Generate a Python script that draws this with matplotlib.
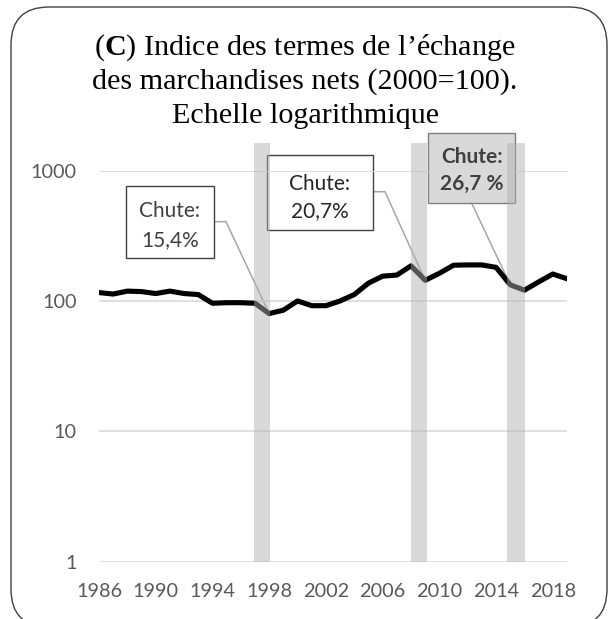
import matplotlib
matplotlib.use("Agg")
import matplotlib.pyplot as plt
from matplotlib.patches import FancyBboxPatch, Rectangle
from matplotlib.lines import Line2D
from matplotlib.transforms import IdentityTransform

plt.rcParams['mathtext.fontset'] = 'custom'
plt.rcParams['mathtext.rm'] = 'Liberation Serif'
plt.rcParams['mathtext.bf'] = 'Liberation Serif:bold'

# donnees
years = list(range(1986, 2020))
index = [116, 113, 119, 118, 114, 119, 114, 112, 96, 97, 97, 96, 80, 85, 100,
         92, 92, 100, 112, 137, 155, 158, 186, 144, 163, 188, 189, 189, 181,
         133, 121, 140, 161, 148]
crash_start = [1996.9, 2008.0, 2014.8]
crash_end = [1998.05, 2009.1, 2016.05]
crash_year = [1998, 2009, 2015]
crash_label = ["Chute:\n15,4%", "Chute:\n20,7%", "Chute:\n26,7 %"]
xticks = list(range(1986, 2019, 4))
yticks = [1, 10, 100, 1000]

W, H = 610, 619
fig = plt.figure(figsize=(W / 100, H / 100), dpi=100)
ax = fig.add_axes([99 / W, 1 - 561.7 / H, 468 / W, 391.1 / H])
ax.patch.set_visible(False)

grey_txt = '#595959'
ax.plot(years, index, color='black', lw=3.7, solid_joinstyle='round', zorder=3)
ax.set_yscale('log')
ax.set_ylim(1, 1000)
ax.set_xlim(1986, 2019)
ax.set_yticks(yticks)
ax.set_yticklabels([str(v) for v in yticks])
ax.yaxis.set_minor_locator(matplotlib.ticker.NullLocator())
ax.set_xticks(xticks)
ax.set_xticklabels([str(v) for v in xticks])
ax.tick_params(length=0, labelsize=14.3, labelcolor=grey_txt)
ax.tick_params(axis='y', pad=16)
ax.tick_params(axis='x', pad=15.5)
for lab in ax.get_xticklabels() + ax.get_yticklabels():
    lab.set_family('Lato')
ax.grid(axis='y', color='#d9d9d9', lw=1.2, zorder=0)
for s in ax.spines.values():
    s.set_visible(False)

for x0, x1 in zip(crash_start, crash_end):
    ax.axvspan(x0, x1, ymin=0, ymax=1.07, color='#b1b1b1', alpha=0.48,
               lw=0, zorder=10, clip_on=False)


def px(x, y):
    return (x, H - y)


idt = IdentityTransform()

# cadre arrondi
fig.add_artist(FancyBboxPatch((11, -8), 596, 620,
                              boxstyle="round,pad=0,rounding_size=38",
                              fc='none', ec='#404040', lw=1.0, transform=idt))

# titre
title_lines = [r"($\mathbf{C}$) Indice des termes de l’échange",
               "des marchandises nets (2000=100).",
               "Echelle logarithmique"]
for i, t in enumerate(title_lines):
    fig.text(305 / W, 1 - (55 + 34 * i) / H, t, family='Liberation Serif',
             fontsize=21.7, ha='center', va='baseline', color='black')

# boites d'annotation (dessinees sous les axes pour que les bandes grises passent dessus)
boxes = [(125.7, 185.7, 214.3, 258.3), (266.5, 155, 373.3, 230),
         (428.3, 133.3, 515, 203.3)]
baselines = [(217, 246), (190, 217), (163, 190)]
elbows = [[(214.3, 221.7), (226, 221.7)], [(373.3, 191.7), (385, 191.7)],
          [(471.7, 203.3)]]

for k in range(3):
    x0, y0, x1, y1 = boxes[k]
    # connecteur
    yr = crash_year[k]
    val = index[years.index(yr)]
    dx, dy = ax.transData.transform((yr, val))
    pts = [px(*p) for p in elbows[k]] + [(dx, dy)]
    fig.add_artist(Line2D([p[0] for p in pts], [p[1] for p in pts],
                          color='#a6a6a6', lw=1.1, transform=idt, zorder=-3))
    bold = k == 2
    fig.add_artist(Rectangle(px(x0, y1), x1 - x0, y1 - y0,
                             fc='#d9d9d9' if bold else 'white',
                             ec='#7f7f7f' if bold else '#404040',
                             lw=1.0, transform=idt, zorder=-2))
    for line, b in zip(crash_label[k].split("\n"), baselines[k]):
        fig.text((x0 + x1) / 2 / W, 1 - b / H, line, family='Lato',
                 fontsize=15, ha='center', va='baseline',
                 fontweight='bold' if bold else 'normal',
                 color='#404040' if k != 1 else '#262626', zorder=-1)

fig.savefig('out.png', dpi=100)
